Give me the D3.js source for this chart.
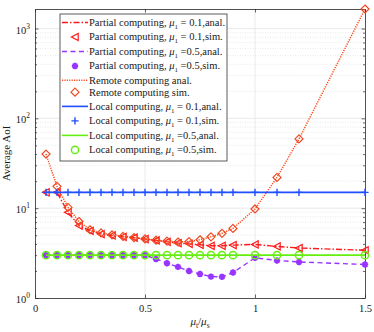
<!DOCTYPE html>
<html>
<head>
<meta charset="utf-8">
<script src="https://cdn.jsdelivr.net/npm/d3@7"></script>
<style>
  body { margin: 0; background: #fff; }
  text { font-family: "Liberation Serif", "Times New Roman", serif; fill: #1a1a1a; }
</style>
</head>
<body>
<div id="chart"></div>
<script>
// ratio mu_t / mu_s
var ratio = [0.05, 0.1, 0.15, 0.2, 0.25, 0.3, 0.35, 0.4, 0.45, 0.5, 0.55, 0.6, 0.65, 0.7, 0.75, 0.8, 0.85, 0.9, 1.0, 1.1, 1.2, 1.5];

var partial01 = [15, 15, 9.0, 6.4, 5.6, 5.15, 4.97, 4.8, 4.7, 4.53, 4.37, 4.22, 4.08, 4.01, 3.91, 3.81, 3.81, 3.88, 3.95, 3.75, 3.6, 3.4];
var partial05 = [3, 3, 3, 3, 3, 3, 3, 3, 3, 3, 2.72, 2.44, 2.22, 2.0, 1.85, 1.73, 1.72, 1.92, 2.8, 2.62, 2.52, 2.36];
var remote = [40, 17.5, 10.2, 7.1, 5.75, 5.3, 5.05, 4.85, 4.7, 4.55, 4.4, 4.3, 4.2, 4.25, 4.45, 4.8, 5.25, 5.95, 9.8, 22, 59, 1650];
var local01 = [15, 15, 15, 15, 15, 15, 15, 15, 15, 15, 15, 15, 15, 15, 15, 15, 15, 15, 15, 15, 15, 15];
var local05 = [3, 3, 3, 3, 3, 3, 3, 3, 3, 3, 3, 3, 3, 3, 3, 3, 3, 3, 3, 3, 3, 3];

var xTicks = [0, 0.5, 1, 1.5];
var yTicks = [1, 10, 100, 1000];

var legendNames = [
    "Partial computing, μ1 = 0.1,anal.",
    "Partial computing, μ1 = 0.1,sim.",
    "Partial computing, μ1 =0.5,anal.",
    "Partial computing, μ1 =0.5,sim.",
    "Remote computing anal.",
    "Remote computing sim.",
    "Local computing, μ1 = 0.1,anal.",
    "Local computing, μ1 = 0.1,sim.",
    "Local computing, μ1 =0.5,anal.",
    "Local computing, μ1 =0.5,sim."
];

var svgWidth = 374;
var svgHeight = 332;
var margin = { top: 9, right: 9, bottom: 34, left: 35 };
var serif = "'Liberation Serif', 'Times New Roman', serif";

var svg = d3.select("#chart")
    .append("svg")
    .attr("width", svgWidth)
    .attr("height", svgHeight)
    .attr("font-family", serif);

var x = d3.scaleLinear()
    .domain([0, 1.5])
    .range([margin.left, svgWidth - margin.right]);

var y = d3.scaleLog()
    .domain([1, d3.max(remote)])
    .range([svgHeight - margin.bottom, margin.top]);

var x0 = x.range()[0], x1 = x.range()[1];
var yB = y.range()[0], yT = y.range()[1];

// minor values on the log axis
var minor = [];
yTicks.forEach(function (d) {
    for (var k = 2; k <= 9; k++) {
        if (d * k < y.domain()[1]) minor.push(d * k);
    }
});

// grid
var grid = svg.append("g");
grid.selectAll(".ming").data(minor).enter().append("line")
    .attr("x1", x0).attr("x2", x1)
    .attr("y1", d => y(d)).attr("y2", d => y(d))
    .attr("stroke", "#dcdcdc").attr("stroke-width", 0.6)
    .attr("stroke-dasharray", "1,1.5");
grid.selectAll(".majy").data(yTicks.slice(1)).enter().append("line")
    .attr("x1", x0).attr("x2", x1)
    .attr("y1", d => y(d)).attr("y2", d => y(d))
    .attr("stroke", "#e4e4e4").attr("stroke-width", 0.8);
grid.selectAll(".majx").data(xTicks.slice(1, -1)).enter().append("line")
    .attr("x1", d => x(d)).attr("x2", d => x(d))
    .attr("y1", yB).attr("y2", yT)
    .attr("stroke", "#e4e4e4").attr("stroke-width", 0.8);

// axes
var bottomAxis = d3.axisBottom(x).tickValues(xTicks)
    .tickFormat(d3.format("")).tickSizeInner(-3.5).tickSizeOuter(0).tickPadding(7);
var gx = svg.append("g").attr("transform", `translate(0, ${yB})`).call(bottomAxis);
gx.attr("font-family", serif);
gx.selectAll("text").attr("font-size", "10.5px").attr("fill", "#1a1a1a");

svg.append("g").attr("transform", `translate(0, ${yT})`)
    .call(d3.axisTop(x).tickValues(xTicks).tickFormat("").tickSizeInner(-3.5).tickSizeOuter(0));

svg.append("g").attr("transform", `translate(${x0}, 0)`)
    .call(d3.axisLeft(y).tickValues(yTicks).tickFormat("").tickSizeInner(-3.5).tickSizeOuter(0));
svg.append("g").attr("transform", `translate(${x1}, 0)`)
    .call(d3.axisRight(y).tickValues(yTicks).tickFormat("").tickSizeInner(-3.5).tickSizeOuter(0));
svg.append("g").attr("transform", `translate(${x0}, 0)`)
    .call(d3.axisLeft(y).tickValues(minor).tickFormat("").tickSizeInner(-2).tickSizeOuter(0))
    .select(".domain").remove();
svg.append("g").attr("transform", `translate(${x1}, 0)`)
    .call(d3.axisRight(y).tickValues(minor).tickFormat("").tickSizeInner(-2).tickSizeOuter(0))
    .select(".domain").remove();

svg.selectAll(".domain").attr("stroke", "#262626").attr("stroke-width", 0.8);
svg.selectAll(".tick line").attr("stroke", "#262626").attr("stroke-width", 0.7);

// y tick labels 10^n
yTicks.forEach(function (d) {
    var t = svg.append("text")
        .attr("x", x0 - 5)
        .attr("y", y(d) + 5)
        .attr("text-anchor", "end")
        .attr("font-size", "10.5px");
    t.append("tspan").text("10");
    t.append("tspan").attr("dy", -5).attr("font-size", "7.5px").text(Math.round(Math.log10(d)));
});

// axis labels
svg.append("text")
    .attr("transform", `translate(10, ${(yB + yT) / 2}) rotate(-90)`)
    .attr("text-anchor", "middle")
    .attr("font-size", "11px")
    .text("Average AoI");

var xl = svg.append("text")
    .attr("x", (x0 + x1) / 2)
    .attr("y", 325)
    .attr("text-anchor", "middle")
    .attr("font-size", "11px");
xl.append("tspan").attr("font-style", "italic").text("μ");
xl.append("tspan").attr("dy", 3).attr("font-size", "7.5px").text("t");
xl.append("tspan").attr("dy", -3).text("/");
xl.append("tspan").attr("font-style", "italic").text("μ");
xl.append("tspan").attr("dy", 3).attr("font-size", "7.5px").text("s");

// marker shapes
function markerPath(type) {
    if (type == "tri") return "M-3.6,0 L3.2,-3.6 L3.2,3.6 Z";
    if (type == "diamond") return "M0,-4 L4,0 L0,4 L-4,0 Z";
    if (type == "plus") return "M-3.6,0 H3.6 M0,-3.6 V3.6";
    if (type == "star") return "M-3.2,0 H3.2 M0,-3.2 V3.2 M-2.3,-2.3 L2.3,2.3 M-2.3,2.3 L2.3,-2.3";
    return "";
}

var series = [
    { values: partial01, color: "#ff1a1a", kind: "line", dash: "6,2,1.5,2", width: 1.4 },
    { values: partial01, color: "#ff1a1a", kind: "tri" },
    { values: partial05, color: "#9933ff", kind: "line", dash: "5,3.5", width: 1.4 },
    { values: partial05, color: "#9933ff", kind: "star" },
    { values: remote, color: "#ff4a1a", kind: "line", dash: "1.2,1.2", width: 1.5 },
    { values: remote, color: "#ee4a22", kind: "diamond" },
    { values: local01, color: "#1f4fff", kind: "line", dash: null, width: 1.6 },
    { values: local01, color: "#1f4fff", kind: "plus" },
    { values: local05, color: "#66ee11", kind: "line", dash: null, width: 1.6 },
    { values: local05, color: "#66ee11", kind: "circle" }
];

var plot = svg.append("g");
var line = d3.line().x(d => x(d[0])).y(d => y(d[1]));

function drawMarker(g, kind, color) {
    if (kind == "circle") {
        g.append("circle").attr("r", 3.6).attr("fill", "none")
            .attr("stroke", color).attr("stroke-width", 1.5);
    } else {
        g.append("path").attr("d", markerPath(kind))
            .attr("fill", "none")
            .attr("stroke", color)
            .attr("stroke-width", kind == "star" ? 1.9 : (kind == "plus" ? 1.4 : 1.2))
            .attr("stroke-linejoin", "miter");
    }
}

series.forEach(function (s) {
    var pts = ratio.map((r, i) => [r, s.values[i]]);
    if (s.kind == "line") {
        plot.append("path").datum(pts)
            .attr("d", line)
            .attr("fill", "none")
            .attr("stroke", s.color)
            .attr("stroke-width", s.width)
            .attr("stroke-dasharray", s.dash);
    } else {
        plot.selectAll(null).data(pts).enter().append("g")
            .attr("transform", d => `translate(${x(d[0])}, ${y(d[1])})`)
            .each(function () { drawMarker(d3.select(this), s.kind, s.color); });
    }
});

// legend
var legend = svg.append("g");
legend.append("rect")
    .attr("x", 60).attr("y", 14).attr("width", 167).attr("height", 147)
    .attr("fill", "#fff").attr("stroke", "#333").attr("stroke-width", 0.8);

var rowY = 22.5;
legendNames.forEach(function (name, i) {
    var hasMu = name.indexOf("μ1") >= 0;
    if (i > 0) {
        var prevMu = legendNames[i - 1].indexOf("μ1") >= 0;
        rowY += (prevMu && hasMu) ? 14.5 : (prevMu || hasMu) ? 14.2 : 12;
    }
    var s = series[i];
    if (s.kind == "line") {
        legend.append("line")
            .attr("x1", 62).attr("x2", 88)
            .attr("y1", rowY).attr("y2", rowY)
            .attr("stroke", s.color).attr("stroke-width", s.width)
            .attr("stroke-dasharray", s.dash);
    } else {
        var g = legend.append("g").attr("transform", `translate(75, ${rowY})`);
        drawMarker(g, s.kind, s.color);
    }
    var t = legend.append("text")
        .attr("x", 89).attr("y", rowY + 3.3)
        .attr("font-size", "10.5px");
    if (hasMu) {
        var parts = name.split("μ1");
        t.append("tspan").text(parts[0]);
        t.append("tspan").attr("font-style", "italic").text("μ");
        t.append("tspan").attr("dy", 3).attr("font-size", "7px").text("1");
        t.append("tspan").attr("dy", -3).text(parts[1]);
    } else {
        t.text(name);
    }
});
</script>
</body>
</html>
